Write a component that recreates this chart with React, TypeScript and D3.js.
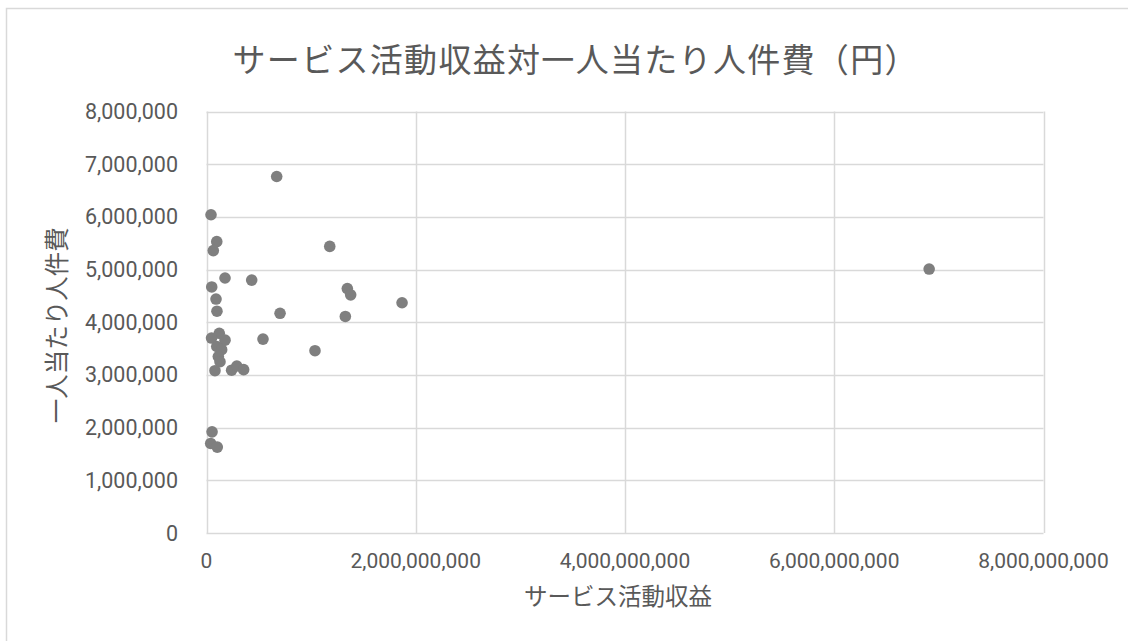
import React, { useEffect, useRef } from "react";
import * as d3 from "d3";

// サービス活動収益 (円)
const revenue: number[] = [
  0.671e9, 0.043e9, 0.098e9, 0.065e9, 1.178e9, 0.177e9, 0.432e9, 0.05e9,
  1.346e9, 1.378e9, 0.091e9, 1.869e9, 0.1e9, 0.703e9, 1.327e9, 0.122e9,
  0.048e9, 0.177e9, 0.54e9, 1.037e9, 0.098e9, 0.145e9, 0.113e9, 0.129e9,
  0.081e9, 0.24e9, 0.29e9, 0.355e9, 0.053e9, 0.04e9, 0.103e9, 6.907e9,
];
// 一人当たり人件費 (円)
const laborCost: number[] = [
  6766000, 6040000, 5530000, 5360000, 5440000, 4840000, 4800000, 4670000,
  4640000, 4520000, 4440000, 4370000, 4210000, 4170000, 4110000, 3790000,
  3700000, 3660000, 3680000, 3460000, 3540000, 3480000, 3350000, 3250000,
  3080000, 3090000, 3170000, 3100000, 1920000, 1700000, 1630000, 5010000,
];
const xTicks = [0, 2e9, 4e9, 6e9, 8e9];
const yTicks = [0, 1e6, 2e6, 3e6, 4e6, 5e6, 6e6, 7e6, 8e6];

const title = "サービス活動収益対一人当たり人件費（円）";
const xTitle = "サービス活動収益";
const yTitle = "一人当たり人件費";

const width = 1128;
const height = 641;
const plot = { left: 206.5, right: 1043.5, top: 111.5, bottom: 533 };
const textColor = "#595959";
const gridColor = "#d9d9d9";
const font = "Roboto, 'Noto Sans CJK JP', sans-serif";

export default function App() {
  const svgRef = useRef<SVGSVGElement>(null);

  useEffect(() => {
    if (!svgRef.current) return;
    const svg = d3.select(svgRef.current);
    svg.selectAll("*").remove();

    const x = d3.scaleLinear().domain([0, 8e9]).range([plot.left, plot.right]);
    const y = d3.scaleLinear().domain([0, 8e6]).range([plot.bottom, plot.top]);
    const fmt = d3.format(",");

    // chart background + border
    svg
      .append("rect")
      .attr("x", 6.5)
      .attr("y", 8.5)
      .attr("width", width + 20)
      .attr("height", height + 20)
      .attr("fill", "white")
      .attr("stroke", gridColor)
      .attr("stroke-width", 1.5);

    // gridlines
    svg
      .append("g")
      .selectAll("line")
      .data(yTicks)
      .enter()
      .append("line")
      .attr("x1", plot.left)
      .attr("x2", plot.right)
      .attr("y1", (d) => Math.round(y(d)) + 0.5)
      .attr("y2", (d) => Math.round(y(d)) + 0.5)
      .attr("stroke", gridColor)
      .attr("stroke-width", 1.5);

    svg
      .append("g")
      .selectAll("line")
      .data(xTicks)
      .enter()
      .append("line")
      .attr("x1", (d) => Math.round(x(d)) + 0.5)
      .attr("x2", (d) => Math.round(x(d)) + 0.5)
      .attr("y1", plot.top)
      .attr("y2", plot.bottom)
      .attr("stroke", gridColor)
      .attr("stroke-width", 1.5);

    // tick labels
    svg
      .append("g")
      .selectAll("text")
      .data(yTicks)
      .enter()
      .append("text")
      .attr("x", 178)
      .attr("y", (d) => y(d))
      .attr("dy", "0.35em")
      .attr("text-anchor", "end")
      .style("font-family", font)
      .style("font-size", "21.5px")
      .style("fill", textColor)
      .text((d) => fmt(d));

    svg
      .append("g")
      .selectAll("text")
      .data(xTicks)
      .enter()
      .append("text")
      .attr("x", (d) => x(d))
      .attr("y", 561)
      .attr("dy", "0.35em")
      .attr("text-anchor", "middle")
      .style("font-family", font)
      .style("font-size", "21px")
      .style("fill", textColor)
      .text((d) => fmt(d));

    // points
    svg
      .append("g")
      .selectAll("circle")
      .data(revenue.map((r, i) => ({ r, c: laborCost[i] })))
      .enter()
      .append("circle")
      .attr("cx", (d) => x(d.r))
      .attr("cy", (d) => y(d.c))
      .attr("r", 5.8)
      .attr("fill", "#7f7f7f");

    // titles
    svg
      .append("text")
      .attr("x", 575)
      .attr("y", 60)
      .attr("dy", "0.35em")
      .attr("text-anchor", "middle")
      .attr("textLength", 685)
      .style("font-family", font)
      .style("font-size", "33px")
      .style("fill", textColor)
      .text(title);

    svg
      .append("text")
      .attr("x", 618)
      .attr("y", 597)
      .attr("dy", "0.35em")
      .attr("text-anchor", "middle")
      .style("font-family", font)
      .style("font-size", "23.5px")
      .style("fill", textColor)
      .text(xTitle);

    svg
      .append("text")
      .attr("transform", `translate(57, ${(plot.top + plot.bottom) / 2 + 3}) rotate(-90)`)
      .attr("dy", "0.35em")
      .attr("text-anchor", "middle")
      .style("font-family", font)
      .style("font-size", "24.5px")
      .style("fill", textColor)
      .text(yTitle);
  }, []);

  return (
    <svg
      ref={svgRef}
      width={width}
      height={height}
      style={{ position: "absolute", left: 0, top: 0, background: "white" }}
    ></svg>
  );
}
